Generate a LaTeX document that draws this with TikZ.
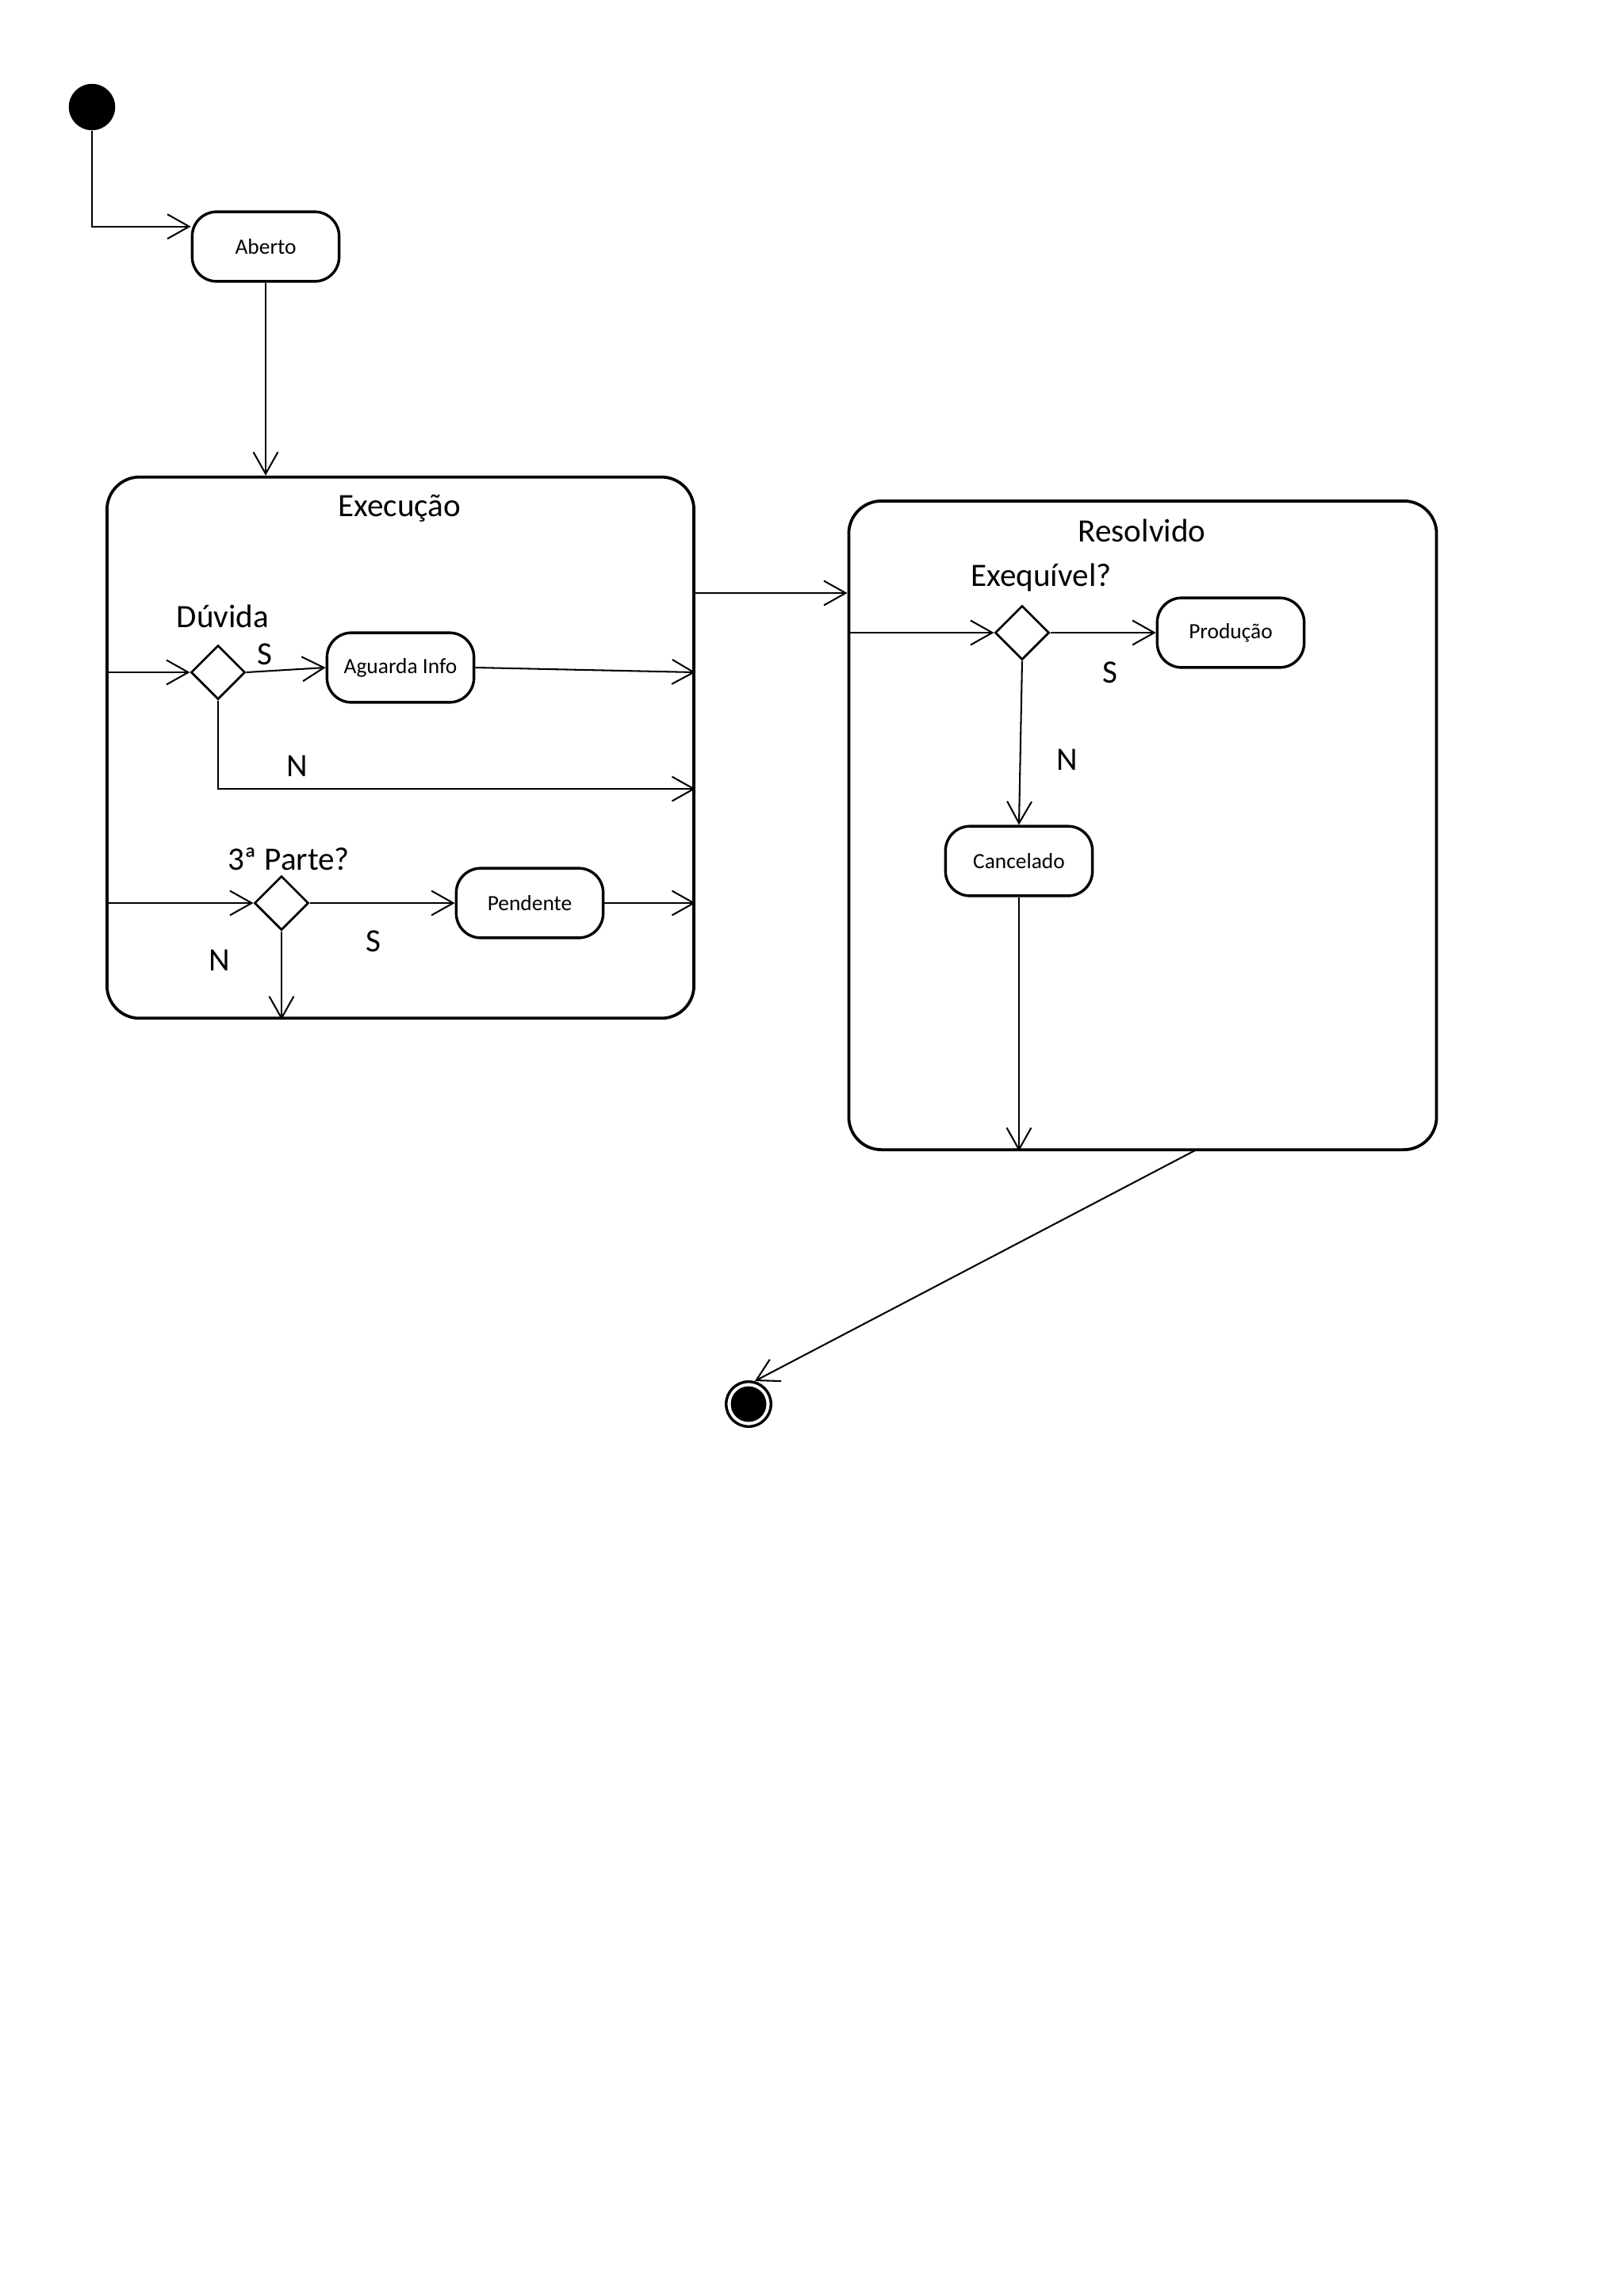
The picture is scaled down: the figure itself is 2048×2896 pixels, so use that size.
\documentclass[tikz,border=0pt]{standalone}
\usepackage{fontspec}
\setmainfont{Carlito}
\usetikzlibrary{shapes.geometric,arrows.meta,positioning}

\begin{document}
\begin{tikzpicture}[x=0.010254cm, y=-0.010254cm,
  stbox/.style={rectangle, draw, line width=1pt, rounded corners=9pt, minimum width=1.9cm, minimum height=0.9cm, font=\fontsize{8}{10}\selectfont},
  cbox/.style={rectangle, draw, line width=1.1pt, rounded corners=12pt, inner sep=0pt},
  choice/.style={diamond, draw, line width=0.8pt, minimum width=0.7cm, minimum height=0.7cm, inner sep=0pt},
  lbl/.style={font=\fontsize{12}{14}\selectfont, inner sep=0pt},
  flow/.style={-{Straight Barb[length=8pt,width=9pt]}, line width=0.6pt}
]
  \useasboundingbox (0,0) rectangle (2048,2896);

  % start and first state
  \node[circle, fill, minimum size=0.6cm, inner sep=0pt] (init) at (116,135) {};
  \node[stbox] (aberto) at (335,311) {Aberto};

  % composite states
  \node[cbox, minimum width=7.59cm, minimum height=7.0cm] (exec) at (505,943) {};
  \node[cbox, minimum width=7.6cm, minimum height=8.39cm] (res) at (1441,1041) {};
  \node[lbl] (execlbl) at (504,641) {Execução};
  \node[lbl] (reslbl) at (1440,669) {Resolvido};

  % inside Execução
  \node[choice] (dq) at (275,848) {};
  \node[lbl] (dqlbl) at (281,777) {Dúvida};
  \node[stbox] (info) at (505,842) {Aguarda Info};
  \node[choice] (pq) at (355,1139) {};
  \node[lbl] (pqlbl) at (364,1084) {3ª Parte?};
  \node[stbox] (pend) at (668,1139) {Pendente};
  \node[lbl] (s1) at (334,825) {S};
  \node[lbl] (n1) at (375,966) {N};
  \node[lbl] (s2) at (471,1187) {S};
  \node[lbl] (n2) at (277,1211) {N};

  % inside Resolvido
  \node[choice] (eq) at (1289,798) {};
  \node[lbl] (eqlbl) at (1313,729) {Exequível?};
  \node[stbox] (prod) at (1552,798) {Produção};
  \node[stbox] (canc) at (1285,1086) {Cancelado};
  \node[lbl] (s3) at (1400,848) {S};
  \node[lbl] (n3) at (1346,958) {N};

  % end state
  \node[circle, draw, line width=1pt, minimum size=0.58cm, inner sep=0pt] (fin) at (944,1771) {};
  \fill (fin) circle (0.23cm);

  \coordinate (hand) at (0,748);
  \coordinate (nlane) at (275,995);
  \coordinate (rexit) at (1509,1450);

  % transitions
  \draw[flow] (init) |- (aberto.165);
  \draw[flow] (aberto.south) -- (exec.north -| aberto.south);
  \draw[flow] (exec.east |- hand) -- (res.west |- hand);
  \draw[flow] (exec.west |- dq) -- (dq);
  \draw[flow] (dq.east) -- (info.west);
  \draw[flow] (info.east) -- (exec.east |- dq);
  \draw[flow] (dq.south) -- (nlane) -- (exec.east |- nlane);
  \draw[flow] (exec.west |- pq) -- (pq);
  \draw[flow] (pq) -- (pend);
  \draw[flow] (pend) -- (exec.east |- pend);
  \draw[flow] (pq.south) -- (exec.south -| pq);
  \draw[flow] (res.west |- eq) -- (eq);
  \draw[flow] (eq) -- (prod);
  \draw[flow] (eq.south) -- (canc.north);
  \draw[flow] (canc) -- (res.south -| canc);
  \draw[flow] (rexit) -- (fin.75);
\end{tikzpicture}
\end{document}
